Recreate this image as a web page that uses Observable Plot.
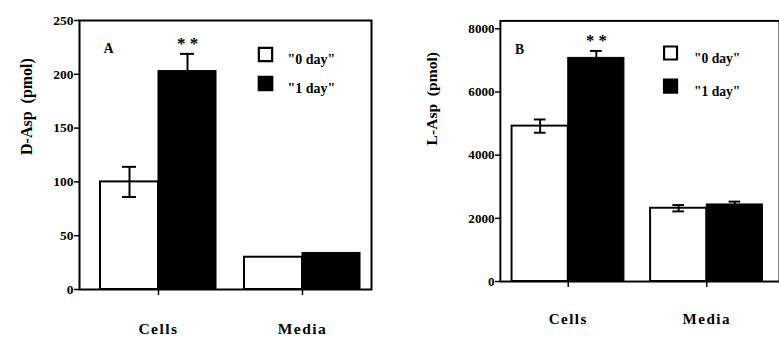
<!DOCTYPE html>
<html>
<head>
<meta charset="utf-8">
<script src="https://cdn.jsdelivr.net/npm/d3@7"></script>
<script src="https://cdn.jsdelivr.net/npm/@observablehq/plot@0.6"></script>
<style>
  body { margin: 0; background: #fff; }
  #wrap { display: flex; width: 779px; height: 341px; overflow: hidden; }
  #a { width: 390px; height: 341px; overflow: hidden; }
  #b { width: 389px; height: 341px; overflow: hidden; }
  svg, svg text { font-family: "Liberation Serif", "Times New Roman", Times, Tinos, "Nimbus Roman", "DejaVu Serif", "Noto Serif", serif !important; }
  g[aria-label="ylabel"] text { letter-spacing: 2.5px; }
  g[aria-label="x-axis tick label"] text { letter-spacing: 1.5px; }
  g[aria-label="legend"] text { letter-spacing: 1px; }
</style>
</head>
<body>
<div id="wrap"><div id="a"></div><div id="b"></div></div>
<script>
// ---- data ----
const categories = ["Cells", "Media"];
const seriesNames = ['"0 day"', '"1 day"'];

const dAspDay0 = [100, 30];
const dAspDay0Err = [14, 0];
const dAspDay1 = [203, 34];
const dAspDay1Err = [16, 0];
const dAspTicks = [0, 50, 100, 150, 200, 250];

const lAspDay0 = [4920, 2320];
const lAspDay0Err = [210, 100];
const lAspDay1 = [7080, 2440];
const lAspDay1Err = [220, 90];
const lAspTicks = [0, 2000, 4000, 6000, 8000];

const significant = ["* *", ""]; // marks above day-1 bars

function rows(v0, e0, v1, e1) {
  const out = [];
  categories.forEach((c, i) => {
    out.push({cat: c, series: seriesNames[0], value: v0[i], err: e0[i], sig: ""});
    out.push({cat: c, series: seriesNames[1], value: v1[i], err: e1[i], sig: significant[i]});
  });
  return out;
}

function panel({data, width, marginLeft, marginRight, marginTop, xRange, pad, yDomain, ticks,
                ylabel, ylabelDx, ylabelDy, letter, letterDx, letterDy, capHalf,
                legDx, legDy0, legDy1, legTextDx, sigDy}) {
  const bw = (xRange[1] - xRange[0]) / (2 - pad) * (1 - pad);
  const half = bw / 2, q = bw / 4;
  const d0 = data.filter(d => d.series === seriesNames[0]);
  const d1 = data.filter(d => d.series === seriesNames[1]);
  return Plot.plot({
    width, height: 341, marginLeft, marginRight, marginTop, marginBottom: 52,
    style: {fontFamily: "'Liberation Serif', 'Times New Roman', serif", fontWeight: "bold", fontSize: "13px", color: "#000", background: "#fff"},
    x: {type: "band", domain: categories, range: xRange, paddingInner: pad, paddingOuter: 0, round: false},
    y: {domain: yDomain},
    marks: [
      Plot.barY(d0, {x: "cat", y: "value", insetRight: half, fill: "#fff", stroke: "#000", strokeWidth: 2}),
      Plot.barY(d1, {x: "cat", y: "value", insetLeft: half, fill: "#000", stroke: "#000", strokeWidth: 1}),
      Plot.ruleX(d0.filter(d => d.err > 0), {x: "cat", y1: d => d.value - d.err, y2: d => d.value + d.err, dx: -q, stroke: "#000", strokeWidth: 2}),
      Plot.ruleX(d1.filter(d => d.err > 0), {x: "cat", y1: d => d.value, y2: d => d.value + d.err, dx: q, stroke: "#000", strokeWidth: 2}),
      Plot.tickY(d0.filter(d => d.err > 0), {x: "cat", y: d => d.value + d.err, insetLeft: q - capHalf, insetRight: bw - q - capHalf, stroke: "#000", strokeWidth: 2}),
      Plot.tickY(d0.filter(d => d.err > 0), {x: "cat", y: d => d.value - d.err, insetLeft: q - capHalf, insetRight: bw - q - capHalf, stroke: "#000", strokeWidth: 2}),
      Plot.tickY(d1.filter(d => d.err > 0), {x: "cat", y: d => d.value + d.err, insetLeft: bw - q - capHalf, insetRight: q - capHalf, stroke: "#000", strokeWidth: 2}),
      Plot.text(d1.filter(d => d.sig), {x: "cat", y: d => d.value + d.err, text: "sig", dx: q, dy: sigDy, fontSize: 17, fontWeight: "bold", fill: "#000"}),
      Plot.frame({stroke: "#000", strokeWidth: 2}),
      Plot.axisY({ticks, tickFormat: d3.format("d"), tickSize: 5, tickPadding: 1, label: null, strokeWidth: 1.5, fontSize: 13.5}),
      Plot.axisX({tickSize: 6, tickPadding: 27, label: null, strokeWidth: 1.5, fontSize: 15.5}),
      Plot.text([ylabel], {frameAnchor: "left", rotate: -90, dx: ylabelDx, dy: ylabelDy, fontSize: 16, fontWeight: "bold", fill: "#000", ariaLabel: "ylabel"}),
      Plot.text([letter], {frameAnchor: "top-left", dx: letterDx, dy: letterDy, fontSize: 14, fontWeight: "bold", fill: "#000"}),
      Plot.dot([seriesNames[0]], {frameAnchor: "top-left", dx: legDx, dy: legDy0, symbol: "square", r: 7.5, fill: "#fff", stroke: "#000", strokeWidth: 2.2}),
      Plot.dot([seriesNames[1]], {frameAnchor: "top-left", dx: legDx, dy: legDy1, symbol: "square", r: 8, fill: "#000", stroke: "#000"}),
      Plot.text([seriesNames[0]], {frameAnchor: "top-left", textAnchor: "start", dx: legTextDx, dy: legDy0, fontSize: 14, fontWeight: "bold", fill: "#000", ariaLabel: "legend"}),
      Plot.text([seriesNames[1]], {frameAnchor: "top-left", textAnchor: "start", dx: legTextDx, dy: legDy1, fontSize: 14, fontWeight: "bold", fill: "#000", ariaLabel: "legend"})
    ]
  });
}

document.getElementById("a").append(panel({
  data: rows(dAspDay0, dAspDay0Err, dAspDay1, dAspDay1Err),
  width: 390, marginLeft: 79, marginRight: 19, marginTop: 20,
  xRange: [100, 360], pad: 28 / 144, yDomain: [0, 250], ticks: dAspTicks,
  ylabel: "D-Asp  (pmol)", ylabelDx: -53, ylabelDy: 0,
  letter: "A", letterDx: 24, letterDy: 23, capHalf: 7,
  legDx: 186, legDy0: 34, legDy1: 63, legTextDx: 208, sigDy: -10
}));

document.getElementById("b").append(panel({
  data: rows(lAspDay0, lAspDay0Err, lAspDay1, lAspDay1Err),
  width: 400, marginLeft: 113, marginRight: 0, marginTop: 21,
  xRange: [125, 383], pad: 27 / 143, yDomain: [0, 8250], ticks: lAspTicks,
  ylabel: "L-Asp  (pmol)", ylabelDx: -70, ylabelDy: -6,
  letter: "B", letterDx: 15, letterDy: 24, capHalf: 6,
  legDx: 175, legDy0: 33, legDy1: 67, legTextDx: 199, sigDy: -10
}));
</script>
</body>
</html>
